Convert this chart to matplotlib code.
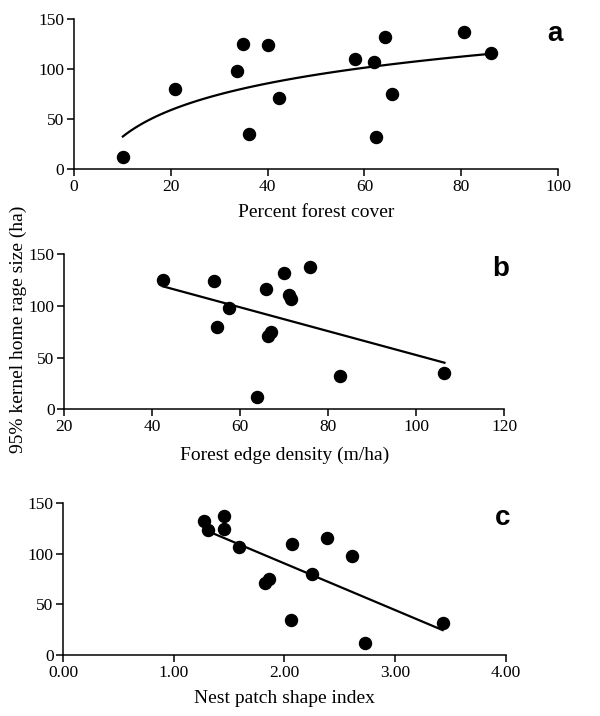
import numpy as np
import matplotlib
matplotlib.use("Agg")
import matplotlib.pyplot as plt
from matplotlib.ticker import FormatStrFormatter

plt.rcParams["font.family"] = ["Liberation Serif", "DejaVu Serif"]

# home range size per bird (ha), shared by all three panels
home_range = [12, 32, 35, 71, 75, 80, 98, 107, 110, 116, 124, 125, 132, 137]

# panel a: percent forest cover
forest_cover = [10.1, 62.3, 36.2, 42.4, 65.8, 20.9, 33.6, 61.9, 58.0, 86.1, 40.0, 34.9, 64.3, 80.5]
# panel b: forest edge density (m/ha)
edge_density = [63.7, 82.6, 106.4, 66.2, 67.0, 54.6, 57.5, 71.5, 71.0, 65.8, 54.1, 42.5, 69.9, 75.8]
# panel c: nest patch shape index
shape_index = [2.73, 3.43, 2.06, 1.82, 1.86, 2.25, 2.61, 1.59, 2.07, 2.38, 1.31, 1.45, 1.27, 1.45]

fig = plt.figure(figsize=(6, 7.16), dpi=100)

ax_a = fig.add_axes([0.1233, 0.7635, 0.8067, 0.2095])
ax_b = fig.add_axes([0.1072, 0.4283, 0.7333, 0.2169])
ax_c = fig.add_axes([0.1055, 0.0852, 0.7373, 0.2119])


def style(ax):
    for side in ["top", "right"]:
        ax.spines[side].set_visible(False)
    for side in ["left", "bottom"]:
        ax.spines[side].set_linewidth(1.1)
    ax.tick_params(direction="out", length=5, width=1.1, labelsize=12.5, pad=2)
    ax.set_ylim(0, 150)
    ax.set_yticks([0, 50, 100, 150])


y = np.array(home_range, dtype=float)

# a: logarithmic fit
xa = np.array(forest_cover)
ax_a.scatter(xa, y, s=75, color="black", zorder=3)
b1, b0 = np.polyfit(np.log(xa), y, 1)
xx = np.linspace(xa.min(), xa.max(), 100)
ax_a.plot(xx, b0 + b1 * np.log(xx), color="black", lw=1.6)
style(ax_a)
ax_a.set_xlim(0, 100)
ax_a.set_xticks([0, 20, 40, 60, 80, 100])
ax_a.set_xlabel("Percent forest cover", fontsize=14)
ax_a.xaxis.set_label_coords(0.5, -0.23)

# b: linear fit
xb = np.array(edge_density)
ax_b.scatter(xb, y, s=75, color="black", zorder=3)
m, c = np.polyfit(xb, y, 1)
xx = np.array([xb.min(), xb.max()])
ax_b.plot(xx, m * xx + c, color="black", lw=1.6)
style(ax_b)
ax_b.set_xlim(20, 120)
ax_b.set_xticks([20, 40, 60, 80, 100, 120])
ax_b.set_xlabel("Forest edge density (m/ha)", fontsize=14)
ax_b.xaxis.set_label_coords(0.5, -0.24)

# c: linear fit
xc = np.array(shape_index)
ax_c.scatter(xc, y, s=75, color="black", zorder=3)
m, c = np.polyfit(xc, y, 1)
xx = np.array([xc.min(), xc.max()])
ax_c.plot(xx, m * xx + c, color="black", lw=1.6)
style(ax_c)
ax_c.set_xlim(0, 4)
ax_c.set_xticks([0, 1, 2, 3, 4])
ax_c.xaxis.set_major_formatter(FormatStrFormatter("%.2f"))
ax_c.set_xlabel("Nest patch shape index", fontsize=14)
ax_c.xaxis.set_label_coords(0.5, -0.23)

# panel letters
for ax, letter in [(ax_a, "a"), (ax_b, "b"), (ax_c, "c")]:
    ax.text(1.01, 0.99, letter, transform=ax.transAxes, ha="right", va="top",
            fontsize=20, fontweight="bold", family="Liberation Sans")

fig.text(0.03, 0.54, "95% kernel home rage size (ha)", rotation=90,
         ha="center", va="center", fontsize=14)

fig.savefig("out.png", dpi=100)
